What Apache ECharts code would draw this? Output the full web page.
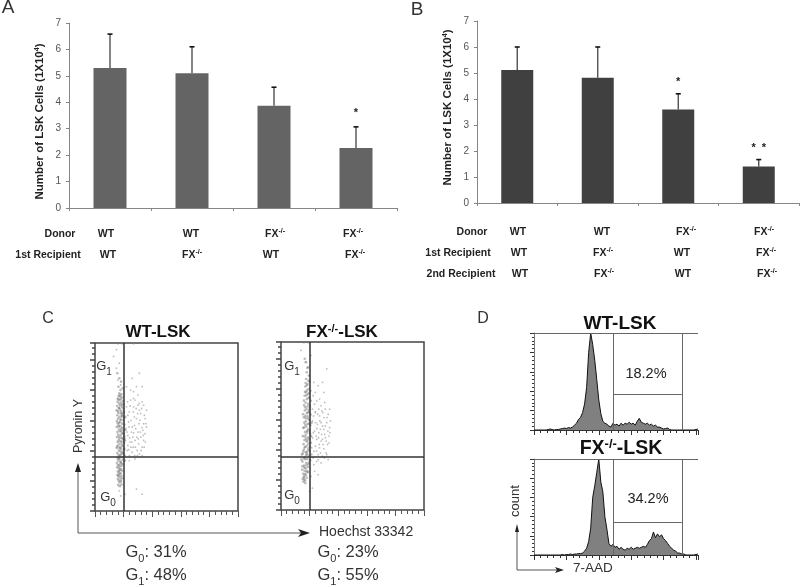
<!DOCTYPE html>
<html>
<head>
<meta charset="utf-8">
<title>LSK cells</title>
<script src="https://cdn.jsdelivr.net/npm/echarts@6/dist/echarts.min.js"></script>
<style>
    html, body { margin: 0; padding: 0; background: #fff; }
    #main { width: 800px; height: 587px; }
</style>
</head>
<body>
<div id="main"></div>
<script>
// panels A and B
var groups = ['WT/WT', 'WT/FX', 'FX/WT', 'FX/FX'];
var cellsA = [5.3, 5.1, 3.87, 2.27];
var errTopA = [6.58, 6.1, 4.57, 3.07];
var starsA = ['', '', '', '*'];
var cellsB = [5.12, 4.82, 3.6, 1.4];
var errTopB = [6.0, 6.0, 4.2, 1.67];
var starsB = ['', '', '*', '*  *'];

// row labels under the bars
var FX = 'FX{sup|-/-}';
var donorRow = ['WT', 'WT', FX, FX];
var firstRow = ['WT', FX, 'WT', FX];
var secondRow = ['WT', FX, 'WT', FX];

// panel C, pyronin / hoechst dots, x and y on a 0-100 scale
var wtColumn = [[17,70],[18.5,69.5],[16.5,68.5],[17.8,68],[19,67.5],[16,67],[18,66.5],[17.2,66],[19.5,65.5],[15.8,65],[18.4,64.5],[16.9,64],
    [20,63.5],[17.6,63],[15.5,62.5],[18.8,62],[16.6,61.5],[19.6,61],[17.3,60.5],[15.2,60],[18.2,59.5],[20.2,59],[16.3,58.5],[17.9,58],
    [19.2,57.5],[15.6,57],[18.6,56.5],[17.1,56],[20.4,55.5],[16.1,55],[18.1,54.5],[19.8,54],[15.3,53.5],[17.5,53],[16.8,52.5],[18.9,52],
    [20.6,51.5],[16.4,51],[17.7,50.5],[15.1,50],[19.1,49.5],[18.3,49],[16.7,48.5],[20.1,48],[17.4,47.5],[15.7,47],[18.7,46.5],[19.4,46],
    [16.2,45.5],[17.9,45],[20.5,44.5],[15.4,44],[18.5,43.5],[17,43],[19.7,42.5],[16.5,42],[18,41.5],[15.9,41],[20.3,40.5],[17.2,40],
    [18.8,39.5],[16.1,39],[19.3,38.5],[17.6,38],[15.2,37.5],[18.2,37],[20,36.5],[16.7,36],[17.8,35.5],[19,35],[15.6,34.5],[18.4,34],
    [16.4,33.5],[20.7,33],[17.3,32.5],[18.9,32],[15.8,31.5],[17.1,31],[19.5,30.5],[16.2,30],[18.1,29.5],[17.7,29],[15.3,28.5],[19.2,28],
    [16.9,27.5],[18.6,27],[17.4,26.5],[15.5,26],[16.6,25.5],[18.3,25],[17.5,24.5],[19,24],[15.9,23.5],[16.8,23],[18,22.5],[17.2,22],
    [15.7,21.5],[18.5,21],[16.3,20.5],[17.6,20],[19.1,19.5],[16,19],[17.9,18.5],[16.7,18],[18.2,17.5],[17,17],
    [17.4,68.7],[16.2,66.4],[18.9,63.2],[17,61.3],[16,59.4],[19,56.3],[17.7,54.3],[16.5,50.2],[18.4,47.7],[16.9,44.2],[18.6,41.1],[17.2,37.4],
    [19.6,34.3],[16.6,31.2],[18.3,28.4],[17.1,24.2],[16.4,21.3],[18.7,58.4],[15.9,52.3],[19.4,43.3],[17.5,33.2],[16.1,27.2],[20.2,46.2],[15.4,38.3],
    [17.8,72],[16.4,74],[18.2,77],[17,79],[15.6,82],[19.4,73],[20.6,37],[21,42],[21.3,49],[20.9,30],[21.2,56],[18.6,15.8],[16.2,15.5],[17.4,14.8]];
var wtCloud = [[22,62],[24,59],[29,55],[33,65],[26,50],[30,47],[34,52],[23,45],[28,42],[32,44],[25,38],[35,55],[27,62],[31,60],[23.5,53],
    [28.5,49],[33.5,48],[26.5,44],[30.5,40],[24.5,41],[36,50],[22.5,36],[29.5,36],[33,38],[27.5,56],[31.5,54],[25.5,47],[35,46],[23,57],[30,63],
    [28,66],[32,58],[26,35],[34,42],[24,33],[21.5,48],[29,74],[26,79],[22,74],[31,82],[33,74],[25,72],[27,67],[36,60],[21,43],[31,34],[28,31],[24,30],
    [15,85],[17,88],[16,78],[18,75],[13,92],[16,99.5],[19,99.5],[27,99.5],[21,10],[29,13],[33,10],[17,12],[18,9],[15,96],
    [22.8,65],[24.6,62.5],[26.8,59],[29.8,58],[32.6,61],[34.5,57],[23.8,50],[25.2,54],[27.6,51],[30.8,52],[32.8,49.5],[35.6,52],[22.4,47],[24.2,43.5],
    [27,46.5],[29.2,44],[31.6,47],[33.8,45],[35.2,41],[23,39],[25.8,41],[28.2,38],[30.2,43],[32.2,36],[34.4,38],[26.6,38],[27.8,33],[29.6,33],[33,33],
    [23.6,36.5],[31,64],[28.8,61],[34,63],[25,66],[30,69],[27,71]];
var fxColumn = [[19,85],[18,82],[19.5,80],[17.6,78],[20,76.5],[18.5,75],[17,73.5],[19.3,72],[20.6,71],[17.5,70],[18.8,69],[16.5,68],[19.9,67],
    [18,66],[20.8,65],[17.2,64],[19,63.2],[16.2,62.4],[18.4,61.6],[20.2,60.8],[17.8,60],[16.6,59.2],[19.4,58.4],[18.1,57.6],[20.7,56.8],[17,56],
    [15.9,55.2],[18.9,54.4],[19.8,53.6],[17.4,52.8],[16.3,52],[18.6,51.2],[20.5,50.4],[17.7,49.6],[15.6,48.8],[19.1,48],[18.2,47.2],[16.8,46.4],
    [20.3,45.6],[17.3,44.8],[15.3,44],[18.7,43.2],[19.6,42.4],[16.4,41.6],[17.9,40.8],[20.9,40],[15.8,39.2],[18.3,38.4],[17.1,37.6],[19.2,36.8],
    [16,36],[20.1,35.2],[18,34.4],[15.2,33.6],[17.5,32.8],[19.7,32],[16.7,31.2],[18.5,30.4],[20.4,29.6],[15,28.8],[17.6,28],[19,27.2],[16.1,26.4],
    [18.8,25.6],[17.2,24.8],[14.8,24],[16.5,23.2],[18.2,22.4],[15.5,21.6],[17.4,20.8],[16.2,20],[18,19.2],[15.1,18.4],[16.9,17.6],[15.7,16.8],[17,16],
    [18.1,74.3],[19.2,66.6],[16.9,61.2],[18.7,58],[17.3,54.6],[19.5,51.4],[16.1,49.3],[18.3,46.2],[17.6,42.3],[19.3,39.6],[16.6,37.3],[18.4,33.1],
    [17.1,30.2],[19.4,28.3],[16.3,25.2],[17.9,23.3],[16.7,21.4],[15.9,19.4],[16.3,18.2],[20,62.2],[15.4,57],[18.6,55.7],[16.7,43.6],[20.3,37.7],[15.9,30.7],
    [17.7,26.6],[19.9,47.2],[18.9,35.6],[17.8,68.2],[16,65.2],[19.6,59.6],[17,50.7],[18.5,41.3],[15.6,35],[17.4,34.4],[19,22.7],
    [17.5,88],[18.4,84.6],[16.6,90],[19.2,77],[17.2,75.6],[18.2,71.2],[16.8,70.4],[19.8,69.6],[14.6,33],[14.2,30],[14.9,26],[21.2,33],[21,44],[21.4,52]];
var fxCloud = [[23,76],[26,74],[22.5,68],[25,65],[28,62],[31,60],[24,58],[27,56],[30,55],[33,57],[22,53],[25.5,51],[29,50],[32,52],[34,49],
    [23.5,47],[26.5,46],[30.5,45],[33.5,44],[22,43],[25,42],[28,41],[31,43],[24,38],[27,37],[30,36.5],[32.5,39],[23,35],[26,33],[29,32],[31.5,34],
    [22.5,31],[25,29],[28,28],[33,30],[24,58.5],[27.5,48],[29.5,39],[23,27],[26,30],[30,70],[32,84],[29,76],[34,60],[22,60],[28,52],[24.5,44],[21.5,37],
    [16,99.5],[19,99.5],[21,92],[14,95],[17,88],[23.5,23],[26,21],[21,20],[20,11],[22,13],
    [23.4,63],[26.4,60],[29.2,58],[32.2,55],[34.6,53],[22.8,56],[25,48.5],[27.2,53],[30,48],[32.8,47],[24.2,52],[26.2,43],[28.4,45],[31.6,41],[33.6,40],
    [22.6,46],[24.8,35],[27.6,34],[30.4,31],[32,33],[29,42],[26.8,39],[34.2,46],[25.6,57],[28.6,59],[31,50],[24,70],[27,66],[30.6,64]];

// panel D, 7-AAD counts, one value per channel bin, 0-100 of the panel height
var wtCounts = [0,0,0,0,0,0,0,0.5,1,0.5,0,0.5,0.5,1,1.5,2,1.5,2.5,2,3,5,7,11,13,18,27,44,80,100,88,72,52,31,17,9,7,6,4,3,7,5,6,4,7,5,7,6,8,6,7,5,9,12,8,7,6,7,5,6,4,5,3,3,2,1,1.5,2,0.5,0,0,0,0,0,0,0,0,0,0,0,0,0.5,1];
var fxCounts = [0,0,0,0,0,0,0,0,0,0,0,0,0,0,0.5,0,0.5,0.5,1,0.5,1,1,1.5,1.5,2,4,7,14,28,60,72,86,100,76,66,40,27,12,9,11,8,9,6,8,6,5,7,6,8,6,7,8,7,8,9,8,11,15,17,24,18,22,19,21,17,15,12,9,7,5,4,2,2,1,1,0,0,0,0,0,0.5,1];
var wtGateHeight = 36.5;
var fxGateHeight = 34;
var gateLeft = 39.2;
var gateRight = 73;

// the two lines of the dot plots
var dotSplitX = 20;
var wtSplitY = 32;
var fxSplitY = 31.5;

var fontName = '"Liberation Sans", Arial, sans-serif';
var richSet = {
    sup: { fontSize: 7, fontWeight: 'bold', fontFamily: fontName, fill: '#222', verticalAlign: 'top', lineHeight: 12 },
    sub: { fontSize: 10, fontFamily: fontName, fill: '#333', verticalAlign: 'bottom', lineHeight: 22 },
    subBig: { fontSize: 11, fontFamily: fontName, fill: '#333', verticalAlign: 'bottom', lineHeight: 24 },
    bigsup: { fontSize: 11, fontWeight: 'bold', fontFamily: fontName, fill: '#111', verticalAlign: 'top', lineHeight: 18 },
    hugesup: { fontSize: 13, fontWeight: 'bold', fontFamily: fontName, fill: '#111', verticalAlign: 'top', lineHeight: 22 }
};

function label(txt, x, y, size, opts) {
    opts = opts || {};
    return {
        type: 'text',
        x: x,
        y: y,
        rotation: opts.rotate || 0,
        silent: true,
        style: {
            text: txt,
            rich: richSet,
            fontFamily: fontName,
            fontSize: size,
            fontWeight: opts.bold ? 'bold' : 'normal',
            fill: opts.color || '#222',
            align: opts.align || 'center',
            verticalAlign: 'middle'
        }
    };
}

function arrow(points, tip, color) {
    return [
        { type: 'polyline', silent: true, shape: { points: points }, style: { stroke: color, lineWidth: 1, fill: null } },
        { type: 'polygon', silent: true, shape: { points: tip }, style: { fill: '#222' } }
    ];
}

function errorSeries(idx, tops, stars, cap, starGap) {
    return {
        type: 'custom',
        xAxisIndex: idx,
        yAxisIndex: idx,
        data: tops.map(function (t, i) { return [i, (idx == 0 ? cellsA : cellsB)[i], t]; }),
        renderItem: function (params, api) {
            var i = api.value(0);
            var from = api.coord([i, api.value(1)]);
            var to = api.coord([i, api.value(2)]);
            return {
                type: 'group',
                children: [
                    { type: 'line', shape: { x1: from[0], y1: from[1], x2: to[0], y2: to[1] }, style: { stroke: '#444', lineWidth: 1.3 } },
                    { type: 'line', shape: { x1: to[0] - cap, y1: to[1], x2: to[0] + cap, y2: to[1] }, style: { stroke: '#111', lineWidth: 1.6 } },
                    { type: 'text', x: to[0], y: to[1] - starGap, style: { text: stars[i], fontFamily: fontName, fontSize: 11, fontWeight: 'bold', fill: '#222', align: 'center', verticalAlign: 'middle' } }
                ]
            };
        }
    };
}

function barAxisX(idx) {
    return {
        type: 'category', gridIndex: idx, data: groups,
        axisLine: { lineStyle: { color: '#868686', width: 1 } },
        axisTick: { show: true, length: 3, lineStyle: { color: '#868686' } },
        axisLabel: { show: false }
    };
}

function barAxisY(idx, namePadding) {
    return {
        type: 'value', gridIndex: idx, min: 0, max: 7, interval: 1,
        name: 'Number of LSK Cells (1X10{sup|4})',
        nameLocation: 'middle',
        nameGap: 23,
        nameTextStyle: { fontFamily: fontName, fontSize: 11.5, fontWeight: 'bold', color: '#222', padding: namePadding, rich: richSet },
        splitLine: { show: false },
        axisLine: { show: true, lineStyle: { color: '#868686' } },
        axisTick: { show: true, length: 3, lineStyle: { color: '#868686' } },
        axisLabel: { color: '#555', fontFamily: fontName, fontSize: 10, margin: 8 }
    };
}

function dotAxisX(idx) {
    return {
        type: 'value', gridIndex: idx, min: 0, max: 100, interval: 20,
        splitLine: { show: false }, axisLine: { show: false }, axisLabel: { show: false },
        axisTick: { show: true, length: 6, lineStyle: { color: '#555' } },
        minorTick: { show: true, splitNumber: 5, length: 4, lineStyle: { color: '#555' } }
    };
}

function dotAxisY(idx) {
    return {
        type: 'value', gridIndex: idx, min: 0, max: 100, interval: 18,
        splitLine: { show: false }, axisLine: { show: false }, axisLabel: { show: false },
        axisTick: { show: true, length: 5, lineStyle: { color: '#444', width: 1.5 } },
        minorTick: { show: true, splitNumber: 5, length: 3, lineStyle: { color: '#444', width: 1.5 } }
    };
}

function dotSeries(idx, column, cloud, splitY) {
    return [{
        type: 'scatter', xAxisIndex: idx, yAxisIndex: idx, data: column, symbolSize: 2.6,
        itemStyle: { color: '#777', opacity: 0.5 },
        markLine: {
            silent: true, symbol: 'none', animation: false, label: { show: false },
            lineStyle: { color: '#333', width: 1.5, type: 'solid' },
            data: [{ xAxis: dotSplitX }, { yAxis: splitY }]
        }
    }, {
        type: 'scatter', xAxisIndex: idx, yAxisIndex: idx, data: cloud, symbolSize: 1.8,
        itemStyle: { color: '#888', opacity: 0.55 }
    }];
}

function histAxisX(idx) {
    return {
        type: 'value', gridIndex: idx, min: 0, max: 81, interval: 16,
        splitLine: { show: false }, axisLabel: { show: false },
        axisLine: { show: true, lineStyle: { color: '#333' } },
        axisTick: { show: true, length: 5, lineStyle: { color: '#333' } },
        minorTick: { show: true, splitNumber: 5, length: 3, lineStyle: { color: '#333' } }
    };
}

function histAxisY(idx) {
    return {
        type: 'value', gridIndex: idx, min: 0, max: 100, interval: 20,
        splitLine: { show: false }, axisLabel: { show: false },
        axisLine: { show: true, lineStyle: { color: '#777' } },
        axisTick: { show: true, length: 4, lineStyle: { color: '#333' } },
        minorTick: { show: true, splitNumber: 5, length: 2, lineStyle: { color: '#333' } }
    };
}

function histSeries(idx, counts, gateHeight) {
    return {
        type: 'line', xAxisIndex: idx, yAxisIndex: idx, showSymbol: false,
        data: counts.map(function (c, i) { return [i, c]; }),
        lineStyle: { color: '#111', width: 1 },
        areaStyle: { color: '#808080', opacity: 1 },
        markLine: {
            silent: true, symbol: 'none', animation: false, label: { show: false },
            lineStyle: { color: '#666', width: 1, type: 'solid' },
            data: [
                { xAxis: gateLeft },
                { xAxis: gateRight },
                [{ coord: [gateLeft, gateHeight] }, { coord: [gateRight, gateHeight] }],
                [{ coord: [0, 100] }, { coord: [81, 100] }]
            ]
        }
    };
}

// all text and arrows that are not part of an axis
function rowLabels(list, xs, y) {
    return list.map(function (t, i) { return label(t, xs[i], y, 10.5, { bold: true }); });
}

var texts = [
    label('A', 8, 8, 19, { color: '#333' }),
    label('B', 417, 10, 19, { color: '#333' }),
    label('C', 48, 319, 16, { color: '#333' }),
    label('D', 483, 319, 16, { color: '#333' }),

    label('Donor', 60, 234, 10.5, { bold: true }),
    label('1st Recipient', 48, 255, 10.5, { bold: true }),
    label('Donor', 472, 232, 10.5, { bold: true }),
    label('1st Recipient', 458, 253, 10.5, { bold: true }),
    label('2nd Recipient', 461, 274, 10.5, { bold: true }),

    label('WT-LSK', 158, 332, 17, { bold: true, color: '#111' }),
    label('FX{bigsup|-/-}-LSK', 342, 332, 17, { bold: true, color: '#111' }),
    label('G{sub|1}', 104, 366, 13, { color: '#333' }),
    label('G{sub|0}', 108, 497, 13, { color: '#333' }),
    label('G{sub|1}', 292, 366, 13, { color: '#333' }),
    label('G{sub|0}', 292, 495, 13, { color: '#333' }),
    label('Pyronin Y', 79, 426, 12.5, { rotate: Math.PI / 2, color: '#333' }),
    label('Hoechst 33342', 319, 532, 14, { align: 'left', color: '#333' }),
    label('G{subBig|0}: 31%', 156, 552, 16.5, { color: '#333' }),
    label('G{subBig|1}: 48%', 156, 575, 16.5, { color: '#333' }),
    label('G{subBig|0}: 23%', 348, 552, 16.5, { color: '#333' }),
    label('G{subBig|1}: 55%', 348, 575, 16.5, { color: '#333' }),

    label('WT-LSK', 620, 324, 19, { bold: true, color: '#111' }),
    label('FX{hugesup|-/-}-LSK', 621, 449, 19.5, { bold: true, color: '#111' }),
    label('18.2%', 646, 374, 14.5, { color: '#222' }),
    label('34.2%', 648, 499, 14.5, { color: '#222' }),
    label('count', 515, 501, 13, { rotate: Math.PI / 2, color: '#333' }),
    label('7-AAD', 573, 568, 13.5, { align: 'left', color: '#333' })
]
    .concat(rowLabels(donorRow, [106, 191, 275, 353], 234))
    .concat(rowLabels(firstRow, [108, 192, 271, 355], 255))
    .concat(rowLabels(donorRow, [518, 602, 686, 764], 232))
    .concat(rowLabels(firstRow, [519, 603, 682, 766], 253))
    .concat(rowLabels(secondRow, [520, 604, 683, 767], 274))
    .concat(arrow([[78, 469], [78, 533], [302, 533]], [[78, 463], [75, 472], [81, 472]], '#555'))
    .concat(arrow([[302, 533], [306, 533]], [[310, 533], [298, 529], [301, 533], [298, 537]], '#333'))
    .concat(arrow([[517, 530], [517, 570], [558, 570]], [[517, 524], [515, 532], [519, 532]], '#555'))
    .concat(arrow([[558, 570], [560, 570]], [[564, 570], [555, 567], [557, 570], [555, 573]], '#333'));

var option = {
    animation: false,
    backgroundColor: '#fff',
    graphic: texts,
    grid: [
        { left: 69, top: 23, width: 328, height: 185 },
        { left: 477, top: 21, width: 322, height: 182 },
        { left: 95, top: 343, width: 143, height: 168, show: true, borderColor: '#444', borderWidth: 1.5, backgroundColor: 'transparent' },
        { left: 281, top: 342, width: 143, height: 168, show: true, borderColor: '#444', borderWidth: 1.5, backgroundColor: 'transparent' },
        { left: 534, top: 333, width: 164, height: 97 },
        { left: 534, top: 459, width: 164, height: 96 }
    ],
    xAxis: [barAxisX(0), barAxisX(1), dotAxisX(2), dotAxisX(3), histAxisX(4), histAxisX(5)],
    yAxis: [barAxisY(0, [0, 12, 0, 0]), barAxisY(1, [0, 0, 0, 9]), dotAxisY(2), dotAxisY(3), histAxisY(4), histAxisY(5)],
    series: [
        { type: 'bar', xAxisIndex: 0, yAxisIndex: 0, data: cellsA, barWidth: 33, itemStyle: { color: '#646464' } },
        errorSeries(0, errTopA, starsA, 2.5, 14),
        { type: 'bar', xAxisIndex: 1, yAxisIndex: 1, data: cellsB, barWidth: 32, itemStyle: { color: '#404040' } },
        errorSeries(1, errTopB, starsB, 2.5, 12)
    ]
        .concat(dotSeries(2, wtColumn, wtCloud, wtSplitY))
        .concat(dotSeries(3, fxColumn, fxCloud, fxSplitY))
        .concat([histSeries(4, wtCounts, wtGateHeight), histSeries(5, fxCounts, fxGateHeight)])
};

var chart = echarts.init(document.getElementById('main'), null, { renderer: 'canvas' });
chart.setOption(option);
</script>
</body>
</html>
